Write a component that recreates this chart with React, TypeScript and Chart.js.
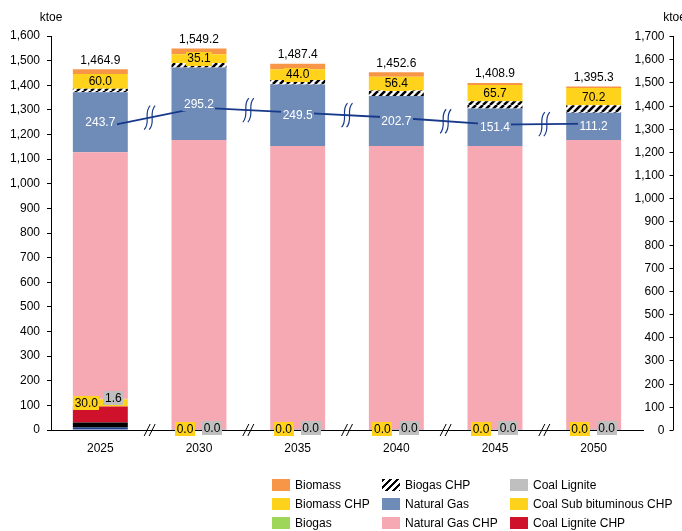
import React, { useEffect, useRef } from 'react';
import { Chart, registerables } from 'chart.js';

Chart.register(...registerables);

// ---------- data ----------
const years = ['2025', '2030', '2035', '2040', '2045', '2050'];
const otherSmall = [10, 3, 3, 3, 3, 3];
const coalSubBituminous = [20, 0, 0, 0, 0, 0];
const coalLigniteChp = [65, 0, 0, 0, 0, 0];
const coalSubBituminousChp = [30.0, 0.0, 0.0, 0.0, 0.0, 0.0];
const coalLignite = [1.6, 0.0, 0.0, 0.0, 0.0, 0.0];
const biogas = [0, 0, 0, 0, 0, 0];
const naturalGasChp = [1001.1, 1174.2, 1150.7, 1150.7, 1150.7, 1174.2];
const naturalGas = [243.7, 295.2, 249.5, 202.7, 151.4, 111.2];
const biogasChp = [14, 18, 18, 22, 30, 30];
const biomassChp = [60.0, 35.1, 44.0, 56.4, 65.7, 70.2];
const biomass = [19.5, 23.7, 22.2, 17.8, 8.1, 6.7];
const totals = [1464.9, 1549.2, 1487.4, 1452.6, 1408.9, 1395.3];
const connectorLine = [1228, 1309, 1289, 1268, 1240, 1244];
const leftTicks = { min: 0, max: 1600, step: 100 };
const rightTicks = { min: 0, max: 1700, step: 100 };

// ---------- styles ----------
const FONT = '"Liberation Sans", Arial, sans-serif';
const C = {
  biomass: '#F79646',
  biomassChp: '#FFD21C',
  biogas: '#9ED65A',
  ng: '#6F8CB9',
  ngChp: '#F6A9B2',
  lignite: '#BFBFBF',
  subChp: '#FFD21C',
  ligniteChp: '#D0112B',
  black: '#000000',
  navy: '#1F3F8F',
  line: '#17398A',
};

const fmt1 = (v: number) =>
  v.toLocaleString('en-US', { minimumFractionDigits: 1, maximumFractionDigits: 1 });

function makeHatch(): CanvasPattern | string {
  const c = document.createElement('canvas');
  c.width = 7;
  c.height = 7;
  const g = c.getContext('2d');
  if (!g) return '#000';
  g.fillStyle = '#fff';
  g.fillRect(0, 0, 7, 7);
  g.strokeStyle = '#000';
  g.lineWidth = 2.6;
  for (const o of [-7, 0, 7]) {
    g.beginPath();
    g.moveTo(o, 7);
    g.lineTo(o + 7, 0);
    g.stroke();
  }
  const p = g.createPattern(c, 'repeat');
  return p || '#000';
}

const legendItems = [
  { label: 'Biomass', color: C.biomass, col: 0, row: 0 },
  { label: 'Biomass CHP', color: C.biomassChp, col: 0, row: 1 },
  { label: 'Biogas', color: C.biogas, col: 0, row: 2 },
  { label: 'Biogas CHP', color: 'hatch', col: 1, row: 0 },
  { label: 'Natural Gas', color: C.ng, col: 1, row: 1 },
  { label: 'Natural Gas CHP', color: C.ngChp, col: 1, row: 2 },
  { label: 'Coal Lignite', color: C.lignite, col: 2, row: 0 },
  { label: 'Coal Sub bituminous CHP', color: C.subChp, col: 2, row: 1 },
  { label: 'Coal Lignite CHP', color: C.ligniteChp, col: 2, row: 2 },
];
const legendColX = [272, 382, 510];
const legendRowY = [478, 497, 516];

export default function App() {
  const ref = useRef<HTMLCanvasElement | null>(null);

  useEffect(() => {
    document.body.style.margin = '0';
    const canvas = ref.current;
    if (!canvas) return;
    const hatch = makeHatch();

    const datasets: any[] = [
      { label: 'Other', data: otherSmall, backgroundColor: C.navy },
      { label: 'Coal Sub bituminous', data: coalSubBituminous, backgroundColor: C.black },
      { label: 'Coal Lignite CHP', data: coalLigniteChp, backgroundColor: C.ligniteChp },
      { label: 'Coal Sub bituminous CHP', data: coalSubBituminousChp, backgroundColor: C.subChp },
      { label: 'Coal Lignite', data: coalLignite, backgroundColor: C.lignite },
      { label: 'Biogas', data: biogas, backgroundColor: C.biogas },
      { label: 'Natural Gas CHP', data: naturalGasChp, backgroundColor: C.ngChp },
      { label: 'Natural Gas', data: naturalGas, backgroundColor: C.ng },
      { label: 'Biogas CHP', data: biogasChp, backgroundColor: hatch },
      { label: 'Biomass CHP', data: biomassChp, backgroundColor: C.biomassChp },
      { label: 'Biomass', data: biomass, backgroundColor: C.biomass },
    ].map((d) => ({
      ...d,
      type: 'bar',
      stack: 'main',
      barPercentage: 0.557,
      categoryPercentage: 1,
      borderWidth: 0,
      order: 1,
    }));
    const idx = (l: string) => datasets.findIndex((d) => d.label === l);
    const iSubChp = idx('Coal Sub bituminous CHP');
    const iLig = idx('Coal Lignite');
    const iNg = idx('Natural Gas');
    const iBmChp = idx('Biomass CHP');
    const iTop = idx('Biomass');

    datasets.push({
      type: 'line',
      label: 'connector',
      data: connectorLine,
      borderColor: C.line,
      borderWidth: 1.8,
      pointRadius: 0,
      tension: 0,
      fill: false,
      stack: 'connector',
      order: 0,
    });

    const box = (
      ctx: CanvasRenderingContext2D,
      text: string,
      cx: number,
      cy: number,
      bg: string | null,
      fg: string
    ) => {
      ctx.font = `12px ${FONT}`;
      const w = ctx.measureText(text).width;
      if (bg) {
        ctx.fillStyle = bg;
        ctx.fillRect(Math.round(cx - w / 2 - 1.5), Math.round(cy - 7), Math.round(w + 3), 14);
      }
      ctx.fillStyle = fg;
      ctx.textAlign = 'center';
      ctx.textBaseline = 'middle';
      ctx.fillText(text, cx, cy + 0.5);
    };

    const overlay = {
      id: 'overlay',
      afterDraw(chart: any) {
        const ctx: CanvasRenderingContext2D = chart.ctx;
        const ys = chart.scales.y;
        const y2 = chart.scales.y2;
        const area = chart.chartArea;
        ctx.save();

        // x-axis break marks
        const bars = chart.getDatasetMeta(iTop).data;
        const lineMeta = chart.getDatasetMeta(datasets.length - 1).data;
        ctx.strokeStyle = '#000';
        ctx.lineWidth = 1;
        for (let i = 0; i < bars.length - 1; i++) {
          const bx = (bars[i].x + bars[i + 1].x) / 2;
          for (const dx of [-2.5, 2.5]) {
            ctx.beginPath();
            ctx.moveTo(bx + dx - 3, area.bottom + 6);
            ctx.lineTo(bx + dx + 3, area.bottom - 6);
            ctx.stroke();
          }
          // wavy marks on connector line
          const ly = (lineMeta[i].y + lineMeta[i + 1].y) / 2;
          ctx.strokeStyle = C.line;
          ctx.lineWidth = 1.2;
          for (const dx of [-2.5, 2.5]) {
            const sx = bx + dx;
            ctx.beginPath();
            ctx.moveTo(sx + 3, ly - 12);
            ctx.bezierCurveTo(sx - 4, ly - 5, sx + 4, ly + 5, sx - 3, ly + 12);
            ctx.stroke();
          }
          ctx.strokeStyle = '#000';
          ctx.lineWidth = 1;
        }

        // labels
        for (let i = 0; i < years.length; i++) {
          const top = chart.getDatasetMeta(iTop).data[i];
          ctx.font = `12px ${FONT}`;
          ctx.fillStyle = '#000';
          ctx.textAlign = 'center';
          ctx.textBaseline = 'bottom';
          ctx.fillText(fmt1(totals[i]), top.x, ys.getPixelForValue(totals[i]) - 3);

          const ng = chart.getDatasetMeta(iNg).data[i];
          box(ctx, fmt1(naturalGas[i]), ng.x, (ng.y + ng.base) / 2, C.ng, '#fff');

          const bm = chart.getDatasetMeta(iBmChp).data[i];
          box(ctx, fmt1(biomassChp[i]), bm.x, (bm.y + bm.base) / 2, C.biomassChp, '#000');

          const sc = chart.getDatasetMeta(iSubChp).data[i];
          box(ctx, fmt1(coalSubBituminousChp[i]), sc.x - 14, (sc.y + sc.base) / 2, C.subChp, '#000');

          const lg = chart.getDatasetMeta(iLig).data[i];
          box(ctx, fmt1(coalLignite[i]), lg.x + 13, (lg.y + lg.base) / 2 - 1, C.lignite, '#000');
        }

        // right axis
        const rx = 673.5;
        ctx.strokeStyle = '#000';
        ctx.lineWidth = 1;
        ctx.beginPath();
        ctx.moveTo(rx, area.top);
        ctx.lineTo(rx, area.bottom);
        ctx.stroke();
        ctx.font = `12px ${FONT}`;
        ctx.fillStyle = '#000';
        ctx.textAlign = 'right';
        ctx.textBaseline = 'middle';
        for (const t of y2.ticks) {
          const py = Math.round(y2.getPixelForValue(t.value)) + 0.5;
          ctx.beginPath();
          ctx.moveTo(rx - 4, py);
          ctx.lineTo(rx, py);
          ctx.stroke();
          ctx.fillText(t.value.toLocaleString('en-US'), rx - 9, py);
        }

        // unit labels
        ctx.textAlign = 'center';
        ctx.fillText('ktoe', ys.left + ys.width, 18);
        ctx.fillText('ktoe', rx + 1, 18);
        ctx.restore();
      },
    };

    const chart = new Chart(canvas, {
      type: 'bar',
      data: { labels: years, datasets },
      options: {
        responsive: false,
        animation: false,
        locale: 'en-US',
        layout: { padding: { top: 36, right: 39, left: 0, bottom: 0 } },
        plugins: { legend: { display: false }, tooltip: { enabled: false } },
        scales: {
          x: {
            stacked: true,
            grid: { display: false, drawTicks: false },
            border: { display: true, color: '#000', width: 1 },
            ticks: { color: '#000', font: { family: FONT, size: 12 }, padding: 11 },
            afterFit: (s: any) => {
              s.height = 101;
            },
          },
          y: {
            stacked: true,
            min: leftTicks.min,
            max: leftTicks.max,
            ticks: {
              stepSize: leftTicks.step,
              color: '#000',
              font: { family: FONT, size: 12 },
              padding: 7,
            },
            grid: { display: true, drawOnChartArea: false, drawTicks: true, tickLength: 4, color: '#000' },
            border: { display: true, color: '#000', width: 1 },
            afterFit: (s: any) => {
              s.width = 51;
            },
          },
          y2: {
            display: false,
            position: 'right',
            min: rightTicks.min,
            max: rightTicks.max,
            ticks: { stepSize: rightTicks.step },
            grid: { display: false },
          },
        },
      },
      plugins: [overlay],
    } as any);

    return () => chart.destroy();
  }, []);

  return (
    <div style={{ position: 'relative', width: 682, height: 531, background: '#fff', fontFamily: FONT }}>
      <canvas ref={ref} width={682} height={531} style={{ display: 'block' }} />
      {legendItems.map((it) => (
        <div
          key={it.label}
          style={{
            position: 'absolute',
            left: legendColX[it.col],
            top: legendRowY[it.row],
            height: 14,
            display: 'flex',
            alignItems: 'center',
            fontSize: 12,
            color: '#000',
            whiteSpace: 'nowrap',
          }}
        >
          <span
            style={{
              display: 'inline-block',
              width: 18,
              height: 12,
              marginRight: 5,
              background:
                it.color === 'hatch'
                  ? 'repeating-linear-gradient(135deg, #000 0px, #000 2.5px, #fff 2.5px, #fff 5px)'
                  : it.color,
            }}
          />
          <span>{it.label}</span>
        </div>
      ))}
    </div>
  );
}
